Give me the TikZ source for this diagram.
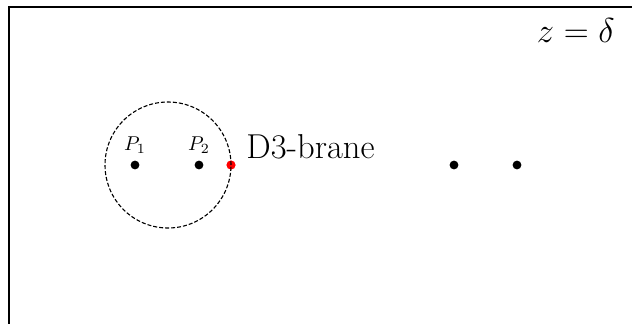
\documentclass[tikz,border=0pt]{standalone}
\usepackage{amsmath,amssymb}
\usetikzlibrary{positioning}

\begin{document}
\begin{tikzpicture}[
    x=0.5pt, y=-0.5pt,
    dot/.style={circle, fill=black, inner sep=0pt, minimum size=4.4pt},
    reddot/.style={circle, fill=red, inner sep=0pt, minimum size=4.6pt},
    ring/.style={draw, circle, dash pattern=on 2pt off 1pt, line width=0.55pt, inner sep=0pt, minimum size=63pt}
]
\useasboundingbox (0,0) rectangle (632,323);
\clip (0,0) rectangle (632,323);

% frame
\draw[line width=1pt] (9,340) -- (9,7) -- (650,7);
\node[anchor=base east, inner sep=0pt, font=\LARGE] (zlabel) at (615,42) {$z=\delta$};

% points
\node[reddot] (brane) at (231,165) {};
\node[ring] (disk) at (168,165) {};
\node[dot, label={[label distance=0pt]above:$P_1$}] (p1) at (135,165) {};
\node[dot, label={[label distance=0pt]above:$P_2$}] (p2) at (199,165) {};
\node[dot] (q1) at (454,165) {};
\node[dot] (q2) at (517,165) {};

\node[anchor=base west, inner sep=0pt, font=\LARGE] (branelabel) at (246,158) {D3-brane};
\end{tikzpicture}
\end{document}
